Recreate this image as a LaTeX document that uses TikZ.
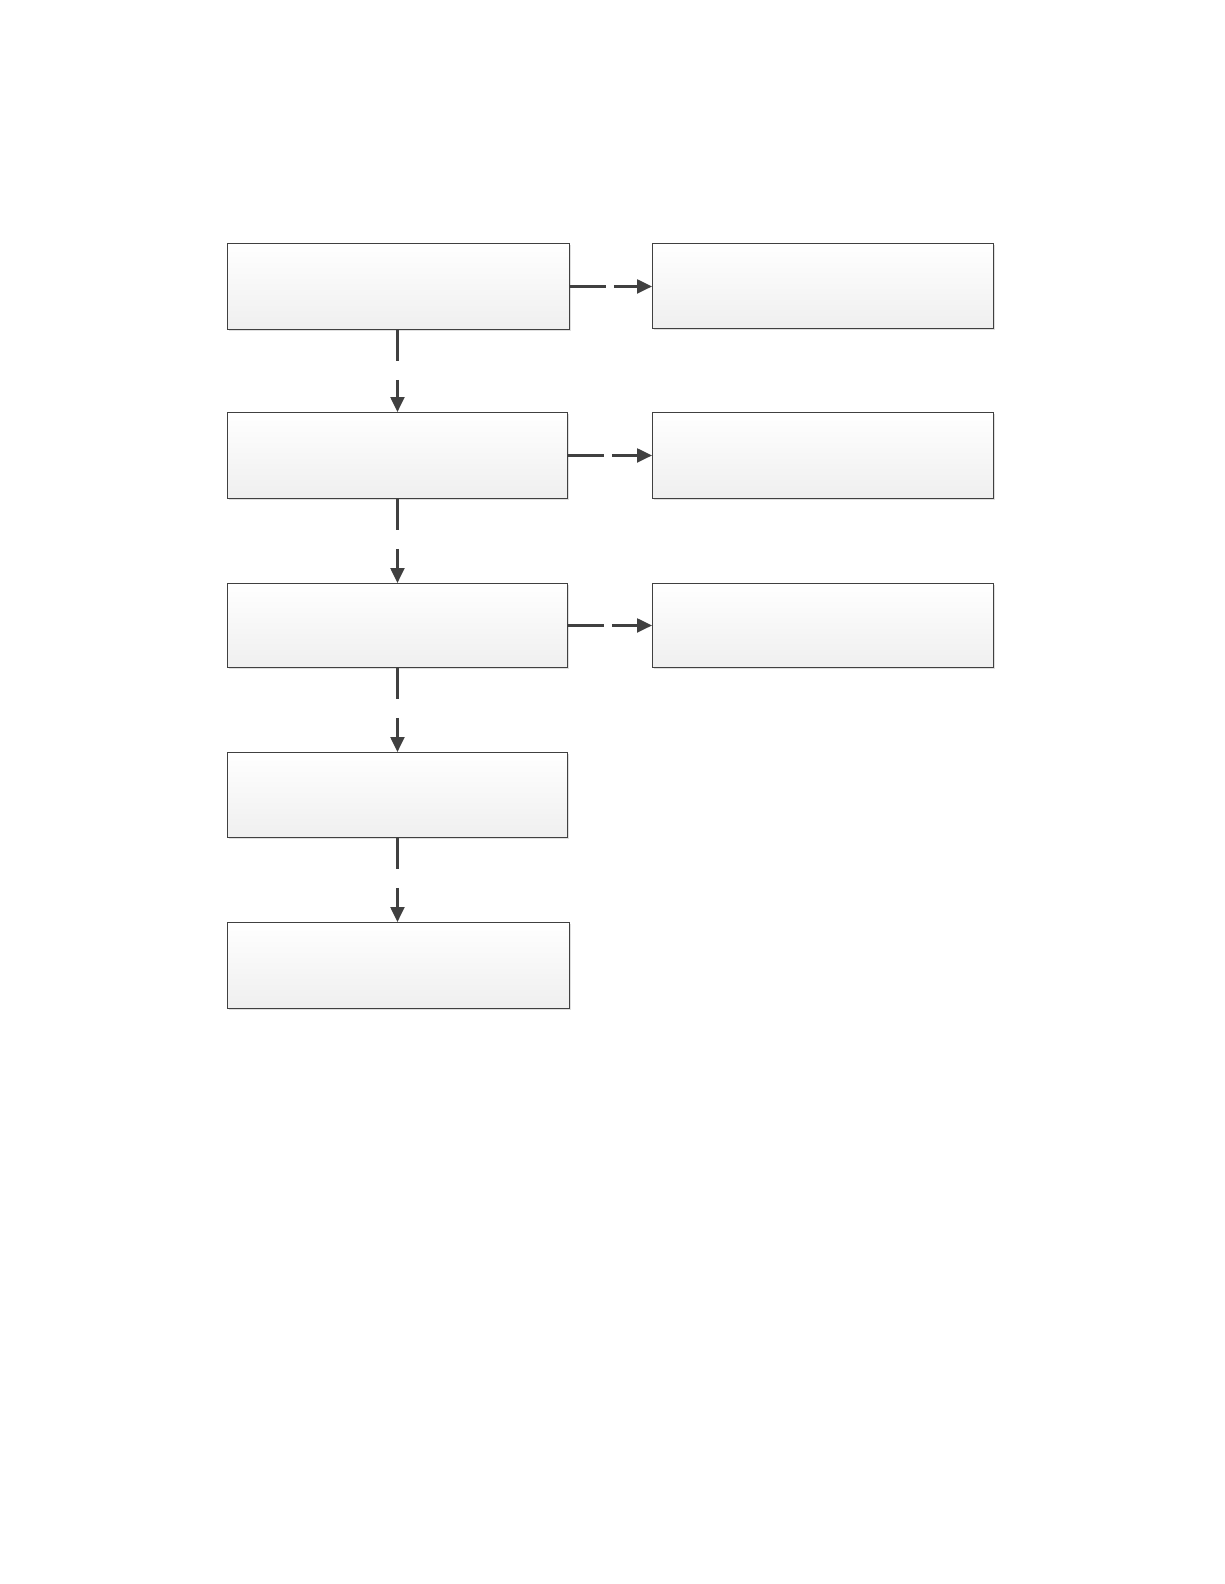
\documentclass[tikz,border=0pt]{standalone}
\usetikzlibrary{arrows.meta,shadows,positioning}
\definecolor{edge}{HTML}{404040}
\definecolor{boxbot}{HTML}{EFEFEF}
\tikzset{
  stepbox/.style={draw=edge, line width=0.9pt, anchor=north west, inner sep=0pt,
    top color=white, bottom color=boxbot, middle color=white!50!boxbot,
    drop shadow={shadow xshift=2pt, shadow yshift=-2pt, opacity=0.25, fill=gray}},
  vlink/.style={draw=edge, line width=2.2pt, dash pattern=on 31pt off 19pt on 300pt,
    -{Triangle[length=15pt,width=14pt]}},
  hlink/.style={draw=edge, line width=2.2pt, dash pattern=on 36pt off 8pt on 300pt,
    -{Triangle[length=15pt,width=14pt]}}
}
\begin{document}
\begin{tikzpicture}[x=1pt,y=-1pt]
\useasboundingbox[fill=white] (0,0) rectangle (1224,1584);
\node[stepbox, minimum width=342pt, minimum height=86pt] (b1) at (227,243) {};
\node[stepbox, minimum width=340pt, minimum height=86pt] (b2) at (227,412) {};
\node[stepbox, minimum width=340pt, minimum height=84pt] (b3) at (227,583) {};
\node[stepbox, minimum width=340pt, minimum height=85pt] (b4) at (227,752) {};
\node[stepbox, minimum width=342pt, minimum height=86pt] (b5) at (227,922) {};
\node[stepbox, minimum width=341pt, minimum height=85pt] (r1) at (652,243) {};
\node[stepbox, minimum width=341pt, minimum height=86pt] (r2) at (652,412) {};
\node[stepbox, minimum width=341pt, minimum height=84pt] (r3) at (652,583) {};
\draw[vlink] (b1.south -| b2.north) -- (b2.north);
\draw[vlink] (b2.south) -- (b3.north);
\draw[vlink] (b3.south) -- (b4.north);
\draw[vlink] (b4.south) -- (b4.south |- b5.north);
\draw[hlink] (b1.east) -- (b1.east -| r1.west);
\draw[hlink] (b2.east) -- (b2.east -| r2.west);
\draw[hlink] (b3.east) -- (b3.east -| r3.west);
\end{tikzpicture}
\end{document}
